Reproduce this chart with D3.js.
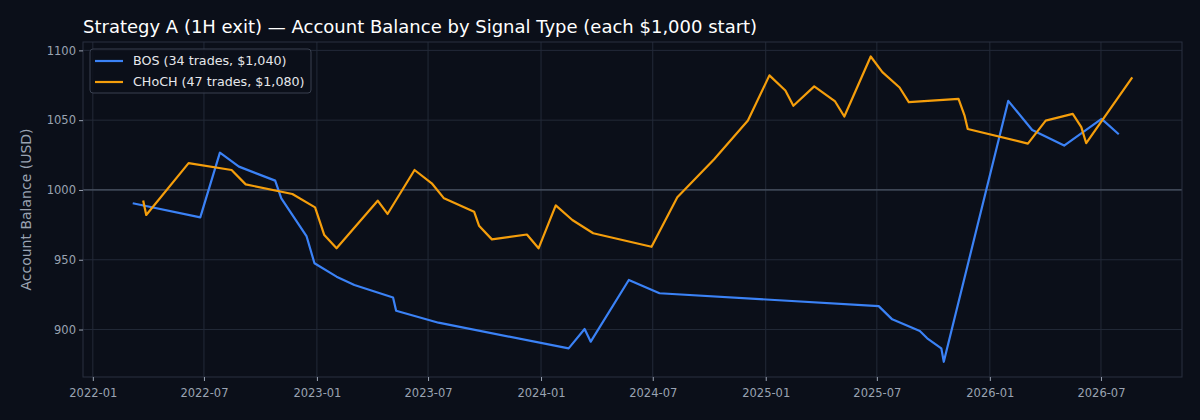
<!DOCTYPE html>
<html>
<head>
<meta charset="utf-8">
<script src="https://cdn.jsdelivr.net/npm/d3@7"></script>
<style>
  body { margin: 0; background: #0b0f19; }
  text { font-family: "DejaVu Sans", sans-serif; }
</style>
</head>
<body>
<svg id="chart" width="1200" height="420"></svg>
<script>
const bosDates = ["2022-03-07","2022-06-25","2022-07-27","2022-08-27","2022-10-25","2022-11-04","2022-12-15","2022-12-28","2023-02-02","2023-03-03","2023-05-05","2023-05-10","2023-07-18","2024-02-15","2024-03-12","2024-03-22","2024-05-23","2024-07-12","2025-07-04","2025-07-26","2025-09-09","2025-09-21","2025-10-14","2025-10-18","2026-01-31","2026-03-11","2026-05-02","2026-07-02","2026-07-30"];
const bosValues = [990.5,980.4,1026.7,1016.7,1006.7,994,967,947.5,937.9,931.9,923,913.5,904.9,886.5,900.4,891.3,935.5,926,916.8,907.3,898.9,893.7,886.5,876.9,1063.8,1043,1031.8,1050.9,1039.9];
const chochDates = ["2022-03-24","2022-03-29","2022-06-06","2022-08-15","2022-09-07","2022-11-22","2022-12-29","2023-01-13","2023-02-02","2023-04-10","2023-04-26","2023-06-09","2023-07-07","2023-07-27","2023-09-14","2023-09-22","2023-10-13","2023-12-09","2023-12-28","2024-01-25","2024-02-21","2024-03-26","2024-06-29","2024-08-10","2024-10-09","2024-12-03","2025-01-07","2025-02-02","2025-02-15","2025-03-21","2025-04-24","2025-05-09","2025-06-21","2025-07-10","2025-08-07","2025-08-22","2025-11-11","2025-11-21","2025-11-26","2026-03-04","2026-04-02","2026-05-16","2026-05-30","2026-06-07","2026-08-21"];
const chochValues = [992.5,982.1,1019.2,1014.3,1004,997.1,987.5,967.7,958.2,992.3,982.8,1014.3,1004.8,994,984.4,974.4,964.6,968.1,958.2,988.9,978.5,969,959.3,994.7,1022,1049.7,1082.1,1071.3,1060.3,1074.2,1063.4,1052.6,1095.6,1084.4,1073.4,1062.9,1065.2,1053,1043.7,1033.2,1049.7,1054.5,1045,1033.5,1080.6];
const seriesNames = ["BOS (34 trades, $1,040)", "CHoCH (47 trades, $1,080)"];
const seriesColors = ["#3b82f6", "#f59e0b"];
const yTicks = [900, 950, 1000, 1050, 1100];
const xTicks = ["2022-01","2022-07","2023-01","2023-07","2024-01","2024-07","2025-01","2025-07","2026-01","2026-07"];

const parse = d3.timeParse("%Y-%m-%d");
const parseMonth = d3.timeParse("%Y-%m");
const series = [
  bosDates.map((d, i) => ({ date: parse(d), value: bosValues[i] })),
  chochDates.map((d, i) => ({ date: parse(d), value: chochValues[i] }))
];

const margin = { top: 42, right: 18, bottom: 43, left: 83 };
const width = 1200, height = 420;
const svg = d3.select("#chart");

const x = d3.scaleTime()
  .domain([parse("2021-12-16"), parse("2026-11-10")])
  .range([margin.left, width - margin.right]);
const y = d3.scaleLinear()
  .domain([866, 1106])
  .range([height - margin.bottom, margin.top]);

svg.append("rect").attr("width", width).attr("height", height).attr("fill", "#0b0f19");

// grid
svg.append("g").selectAll("line").data(yTicks).enter().append("line")
  .attr("x1", margin.left).attr("x2", width - margin.right)
  .attr("y1", d => y(d)).attr("y2", d => y(d))
  .attr("stroke", "#232a38").attr("stroke-width", 1);
svg.append("g").selectAll("line").data(xTicks).enter().append("line")
  .attr("x1", d => x(parseMonth(d))).attr("x2", d => x(parseMonth(d)))
  .attr("y1", margin.top).attr("y2", height - margin.bottom)
  .attr("stroke", "#232a38").attr("stroke-width", 1);

// break-even line
svg.append("line")
  .attr("x1", margin.left).attr("x2", width - margin.right)
  .attr("y1", y(1000)).attr("y2", y(1000))
  .attr("stroke", "#4b5565").attr("stroke-width", 1.2);

// frame
svg.append("rect")
  .attr("x", margin.left).attr("y", margin.top)
  .attr("width", width - margin.left - margin.right)
  .attr("height", height - margin.bottom - margin.top)
  .attr("fill", "none").attr("stroke", "#2a3140");

// axes
const xAxis = svg.append("g")
  .attr("transform", `translate(0,${height - margin.bottom})`)
  .call(d3.axisBottom(x).tickValues(xTicks.map(parseMonth)).tickFormat(d3.timeFormat("%Y-%m")).tickSize(4));
const yAxis = svg.append("g")
  .attr("transform", `translate(${margin.left},0)`)
  .call(d3.axisLeft(y).tickValues(yTicks).tickFormat(d3.format("d")).tickSize(4));
[xAxis, yAxis].forEach(a => {
  a.select(".domain").remove();
  a.selectAll("line").attr("stroke", "#9aa3b2");
  a.selectAll("text").attr("fill", "#9aa3b2").style("font-size", "11.5px");
});
xAxis.selectAll("text").attr("dy", "1.1em");

// lines
const line = d3.line().x(d => x(d.date)).y(d => y(d.value));
series.forEach((s, i) => {
  svg.append("path").datum(s)
    .attr("d", line)
    .attr("fill", "none")
    .attr("stroke", seriesColors[i])
    .attr("stroke-width", 2.2)
    .attr("stroke-linejoin", "round");
});

// title and labels
svg.append("text").attr("x", 83).attr("y", 33)
  .attr("fill", "#ffffff").style("font-size", "18px")
  .text("Strategy A (1H exit) — Account Balance by Signal Type (each $1,000 start)");
svg.append("text")
  .attr("transform", `translate(31,${(margin.top + height - margin.bottom) / 2}) rotate(-90)`)
  .attr("text-anchor", "middle")
  .attr("fill", "#9aa3b2").style("font-size", "14px")
  .text("Account Balance (USD)");

// legend
const legend = svg.append("g").attr("transform", "translate(90,49)");
legend.append("rect").attr("width", 221).attr("height", 44).attr("rx", 3)
  .attr("fill", "#0b0f19").attr("fill-opacity", 0.8)
  .attr("stroke", "#3a4150");
seriesNames.forEach((name, i) => {
  const g = legend.append("g").attr("transform", `translate(5,${12 + i * 21})`);
  g.append("line").attr("x1", 0).attr("x2", 28)
    .attr("stroke", seriesColors[i]).attr("stroke-width", 2.2);
  g.append("text").attr("x", 38).attr("dy", "0.35em")
    .attr("fill", "#e5e7eb").style("font-size", "12.7px").text(name);
});
</script>
</body>
</html>
